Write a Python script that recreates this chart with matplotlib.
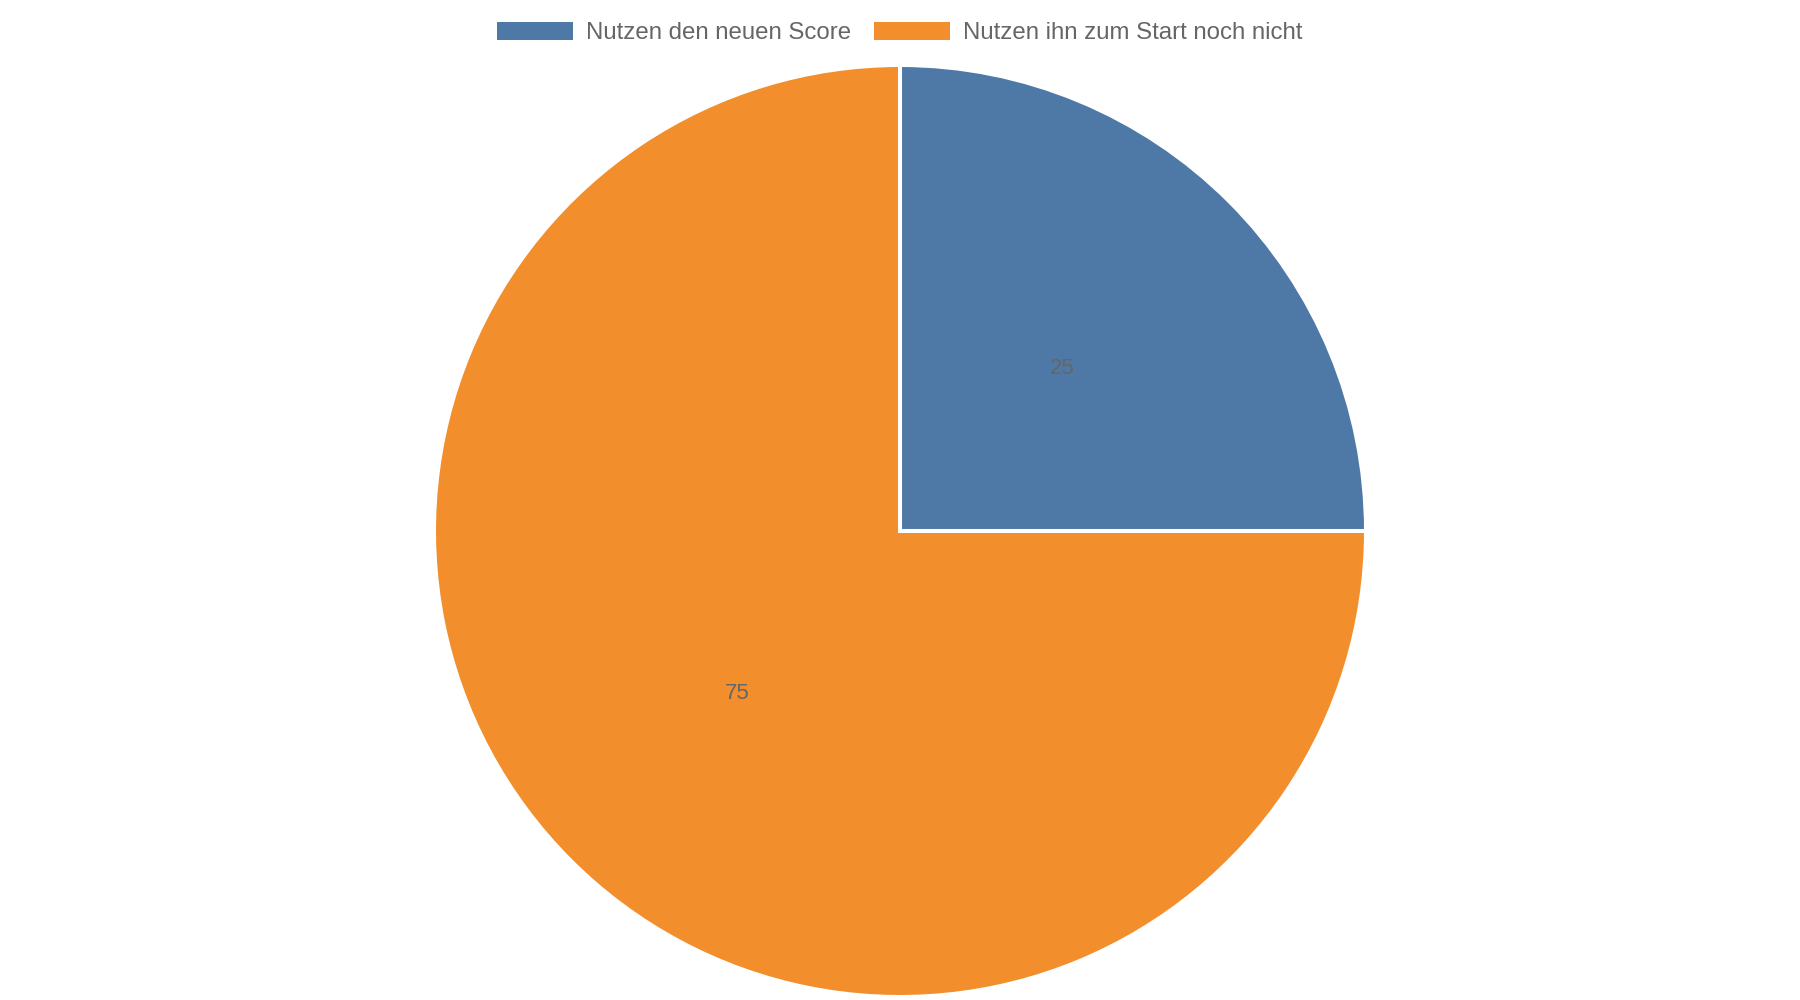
import matplotlib
matplotlib.use("Agg")
import matplotlib.pyplot as plt
from matplotlib.patches import Patch

categories = ["Nutzen den neuen Score", "Nutzen ihn zum Start noch nicht"]
values = [25, 75]
colors = ["#4E79A7", "#F28E2B"]

plt.rcParams['font.family'] = ['Liberation Sans', 'DejaVu Sans']

fig = plt.figure(figsize=(18, 10), dpi=100)
ax = fig.add_axes([(900 - 466) / 1800, (1000 - 531 - 466) / 1000, 932 / 1800, 932 / 1000])

wedges, texts = ax.pie(values, colors=colors, startangle=90, counterclock=False,
                       labels=[str(v) for v in values], labeldistance=0.493,
                       wedgeprops=dict(edgecolor="white", linewidth=2.9),
                       textprops=dict(color="#666666", fontsize=16))
for t in texts:
    t.set_ha("center")
    t.set_va("center")
ax.set_xlim(-1, 1)
ax.set_ylim(-1, 1)
ax.set_aspect("equal")
ax.axis("off")

handles = [Patch(facecolor=c, edgecolor="none") for c in colors]
fig.legend(handles, categories, loc="center", bbox_to_anchor=(0.5, 0.967), ncol=2,
           frameon=False, fontsize=17.3, labelcolor="#666666",
           handlelength=3.15, handleheight=0.83, handletextpad=0.55, columnspacing=0.95)

fig.savefig("out.png", dpi=100, facecolor="white")
